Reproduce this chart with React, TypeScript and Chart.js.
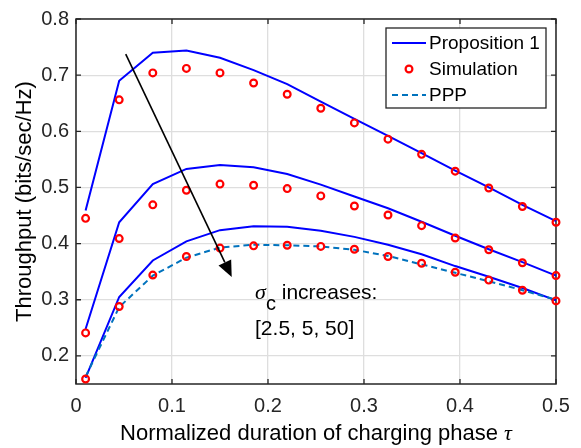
import React, { useEffect, useRef } from "react";
import { Chart, registerables } from "chart.js";

Chart.register(...registerables);

// ---------- data ----------
const tau = [0.01, 0.045, 0.08, 0.115, 0.15, 0.185, 0.22, 0.255, 0.29, 0.325, 0.36, 0.395, 0.43, 0.465, 0.5];

const prop1Sigma2p5 = [0.459, 0.69, 0.74, 0.744, 0.731, 0.709, 0.684, 0.653, 0.622, 0.592, 0.561, 0.53, 0.5, 0.469, 0.44];
const prop1Sigma5 = [0.248, 0.438, 0.506, 0.533, 0.54, 0.536, 0.524, 0.505, 0.484, 0.463, 0.439, 0.414, 0.39, 0.367, 0.343];
const prop1Sigma50 = [0.161, 0.305, 0.37, 0.404, 0.424, 0.431, 0.43, 0.423, 0.412, 0.398, 0.381, 0.36, 0.341, 0.321, 0.299];

const simSigma2p5 = [0.445, 0.656, 0.704, 0.712, 0.704, 0.686, 0.666, 0.641, 0.615, 0.586, 0.559, 0.529, 0.499, 0.466, 0.438];
const simSigma5 = [0.241, 0.409, 0.469, 0.495, 0.506, 0.504, 0.498, 0.485, 0.467, 0.451, 0.432, 0.41, 0.389, 0.366, 0.343];
const simSigma50 = [0.159, 0.288, 0.344, 0.377, 0.392, 0.396, 0.397, 0.395, 0.39, 0.377, 0.365, 0.349, 0.335, 0.317, 0.298];

const pppValues = [0.163, 0.287, 0.343, 0.375, 0.393, 0.398, 0.397, 0.395, 0.389, 0.378, 0.363, 0.348, 0.333, 0.317, 0.3];

const xTickValues = [0, 0.1, 0.2, 0.3, 0.4, 0.5];
const yTickValues = [0.2, 0.3, 0.4, 0.5, 0.6, 0.7, 0.8];

const legendLabels = ["Proposition 1", "Simulation", "PPP"];
const xTitleText = "Normalized duration of charging phase ";
const xTitleSymbol = "\u03c4";
const yTitle = "Throughput (bits/sec/Hz)";
const annotationSymbol = "\u03c3";
const annotationSub = "c";
const annotationLine1 = " increases:";
const annotationLine2 = "[2.5, 5, 50]";

// arrow in data coordinates [x, y]
const arrowFrom = [0.0518, 0.7373];
const arrowTo = [0.1622, 0.3407];
// annotation anchors in data coordinates
const annotationAnchor = [0.1865, 0.3012];
const annotationAnchor2 = [0.1865, 0.2372];

// ---------- styles ----------
const SANS = '"Liberation Sans", Arial, Helvetica, sans-serif';
const SERIF = '"Liberation Serif", "Times New Roman", serif';
const AXIS_COLOR = "#262626";
const BLUE = "#0000ff";
const RED = "#ff0000";
const PPP_COLOR = "#0072bd";

const toPoints = (ys: number[]) => tau.map((t, i) => ({ x: t, y: ys[i] }));

const framePlugin = {
  id: "frame",
  beforeDatasetsDraw(chart: any) {
    const { ctx, chartArea, scales } = chart;
    const { left, right, top, bottom } = chartArea;
    ctx.save();
    ctx.strokeStyle = AXIS_COLOR;
    ctx.lineWidth = 1.5;
    ctx.strokeRect(left, top, right - left, bottom - top);
    ctx.lineWidth = 1.3;
    ctx.beginPath();
    const tl = 5;
    for (const v of xTickValues) {
      const px = scales.x.getPixelForValue(v);
      ctx.moveTo(px, bottom);
      ctx.lineTo(px, bottom - tl);
      ctx.moveTo(px, top);
      ctx.lineTo(px, top + tl);
    }
    for (const v of yTickValues) {
      const py = scales.y.getPixelForValue(v);
      ctx.moveTo(left, py);
      ctx.lineTo(left + tl, py);
      ctx.moveTo(right, py);
      ctx.lineTo(right - tl, py);
    }
    ctx.stroke();

    // x-axis title (mixed fonts: sans text + italic tau)
    ctx.fillStyle = "#000";
    ctx.textBaseline = "alphabetic";
    ctx.textAlign = "left";
    ctx.font = `22px ${SANS}`;
    const w1 = ctx.measureText(xTitleText).width;
    ctx.font = `italic 22px ${SERIF}`;
    const w2 = ctx.measureText(xTitleSymbol).width;
    const cxm = (left + right) / 2;
    const startX = cxm - (w1 + w2) / 2;
    const baseY = bottom + 56;
    ctx.font = `22px ${SANS}`;
    ctx.fillText(xTitleText, startX, baseY);
    ctx.font = `italic 22px ${SERIF}`;
    ctx.fillText(xTitleSymbol, startX + w1, baseY);
    ctx.restore();
  },
};

const overlayPlugin = {
  id: "overlay",
  afterDatasetsDraw(chart: any) {
    const { ctx, scales } = chart;
    const xs = scales.x;
    const ys = scales.y;
    ctx.save();

    // arrow
    const x1 = xs.getPixelForValue(arrowFrom[0]);
    const y1 = ys.getPixelForValue(arrowFrom[1]);
    const x2 = xs.getPixelForValue(arrowTo[0]);
    const y2 = ys.getPixelForValue(arrowTo[1]);
    const ang = Math.atan2(y2 - y1, x2 - x1);
    const headLen = 16;
    const headHalf = 7;
    const bx = x2 - headLen * Math.cos(ang);
    const by = y2 - headLen * Math.sin(ang);
    ctx.strokeStyle = "#000";
    ctx.lineWidth = 1.6;
    ctx.beginPath();
    ctx.moveTo(x1, y1);
    ctx.lineTo(bx, by);
    ctx.stroke();
    ctx.fillStyle = "#000";
    ctx.beginPath();
    ctx.moveTo(x2, y2);
    ctx.lineTo(bx + headHalf * Math.sin(ang), by - headHalf * Math.cos(ang));
    ctx.lineTo(bx - headHalf * Math.sin(ang), by + headHalf * Math.cos(ang));
    ctx.closePath();
    ctx.fill();

    // annotation text
    const ax = xs.getPixelForValue(annotationAnchor[0]);
    const ay = ys.getPixelForValue(annotationAnchor[1]);
    ctx.textBaseline = "alphabetic";
    ctx.textAlign = "left";
    ctx.fillStyle = "#000";
    ctx.font = `italic 22px ${SERIF}`;
    ctx.fillText(annotationSymbol, ax, ay);
    let cx = ax + ctx.measureText(annotationSymbol).width;
    ctx.font = `20px ${SANS}`;
    ctx.fillText(annotationSub, cx, ay + 11);
    cx += ctx.measureText(annotationSub).width;
    ctx.font = `21px ${SANS}`;
    ctx.fillText(annotationLine1, cx, ay);
    const a2x = xs.getPixelForValue(annotationAnchor2[0]);
    const a2y = ys.getPixelForValue(annotationAnchor2[1]);
    ctx.fillText(annotationLine2, a2x, a2y);

    // legend
    const boxL = 386, boxT = 28, boxR = 546, boxB = 108;
    ctx.fillStyle = "#fff";
    ctx.fillRect(boxL, boxT, boxR - boxL, boxB - boxT);
    ctx.strokeStyle = AXIS_COLOR;
    ctx.lineWidth = 1.3;
    ctx.strokeRect(boxL, boxT, boxR - boxL, boxB - boxT);
    const rows = [43, 69, 95];
    const sx1 = 392, sx2 = 426;
    ctx.strokeStyle = BLUE;
    ctx.lineWidth = 2;
    ctx.beginPath();
    ctx.moveTo(sx1, rows[0]);
    ctx.lineTo(sx2, rows[0]);
    ctx.stroke();
    ctx.strokeStyle = RED;
    ctx.lineWidth = 2.2;
    ctx.beginPath();
    ctx.arc((sx1 + sx2) / 2, rows[1], 3.4, 0, Math.PI * 2);
    ctx.stroke();
    ctx.strokeStyle = PPP_COLOR;
    ctx.lineWidth = 2;
    ctx.setLineDash([6, 4]);
    ctx.beginPath();
    ctx.moveTo(sx1, rows[2]);
    ctx.lineTo(sx2, rows[2]);
    ctx.stroke();
    ctx.setLineDash([]);
    ctx.fillStyle = "#000";
    ctx.font = `19px ${SANS}`;
    ctx.textBaseline = "middle";
    legendLabels.forEach((lab, i) => ctx.fillText(lab, 429, rows[i] + 1));

    ctx.restore();
  },
};

export default function App() {
  const canvasRef = useRef<HTMLCanvasElement | null>(null);

  useEffect(() => {
    document.body.style.margin = "0";
    const canvas = canvasRef.current;
    if (!canvas) return;

    const simStyle = {
      showLine: false,
      borderColor: RED,
      backgroundColor: "rgba(0,0,0,0)",
      pointRadius: 3.4,
      pointBorderWidth: 2.2,
      pointBorderColor: RED,
      pointBackgroundColor: "rgba(0,0,0,0)",
      clip: false as any,
    };
    const propStyle = {
      borderColor: BLUE,
      borderWidth: 2,
      pointRadius: 0,
      tension: 0,
      fill: false,
      clip: false as any,
    };

    const chart = new Chart(canvas, {
      type: "line",
      data: {
        datasets: [
          { label: "Simulation", data: toPoints(simSigma2p5), ...simStyle },
          { label: "Simulation", data: toPoints(simSigma5), ...simStyle },
          { label: "Simulation", data: toPoints(simSigma50), ...simStyle },
          {
            label: "PPP",
            data: toPoints(pppValues),
            borderColor: PPP_COLOR,
            borderWidth: 2,
            borderDash: [6, 4],
            pointRadius: 0,
            tension: 0,
            fill: false,
            clip: false as any,
          },
          { label: "Proposition 1", data: toPoints(prop1Sigma2p5), ...propStyle },
          { label: "Proposition 1", data: toPoints(prop1Sigma5), ...propStyle },
          { label: "Proposition 1", data: toPoints(prop1Sigma50), ...propStyle },
        ],
      },
      options: {
        animation: false,
        responsive: true,
        maintainAspectRatio: false,
        layout: { padding: { left: 0, right: 25, top: 17, bottom: 0 } },
        plugins: {
          legend: { display: false },
          tooltip: { enabled: false },
        },
        scales: {
          x: {
            type: "linear",
            min: 0,
            max: 0.5,
            afterBuildTicks: (s: any) => {
              s.ticks = xTickValues.map((v) => ({ value: v }));
            },
            afterFit: (s: any) => {
              s.height = 64;
            },
            grid: { color: "#dedede", lineWidth: 1.3, drawTicks: false },
            border: { display: false },
            ticks: {
              padding: 10,
              color: AXIS_COLOR,
              font: { family: SANS, size: 20 },
              maxRotation: 0,
              callback: (v: any) => String(v),
            },
            title: { display: false },
          },
          y: {
            type: "linear",
            min: 0.15,
            max: 0.8,
            afterBuildTicks: (s: any) => {
              s.ticks = yTickValues.map((v) => ({ value: v }));
            },
            afterFit: (s: any) => {
              s.width = 76;
            },
            grid: { color: "#dedede", lineWidth: 1.3, drawTicks: false },
            border: { display: false },
            ticks: {
              padding: 7,
              color: AXIS_COLOR,
              font: { family: SANS, size: 20 },
              callback: (v: any) => String(v),
            },
            title: {
              display: true,
              text: yTitle,
              color: "#000",
              font: { family: SANS, size: 22 },
              padding: { top: 12, bottom: 0 },
            },
          },
        },
      },
      plugins: [framePlugin, overlayPlugin],
    });

    return () => chart.destroy();
  }, []);

  return (
    <div style={{ position: "relative", width: 581, height: 448 }}>
      <canvas ref={canvasRef} />
    </div>
  );
}
